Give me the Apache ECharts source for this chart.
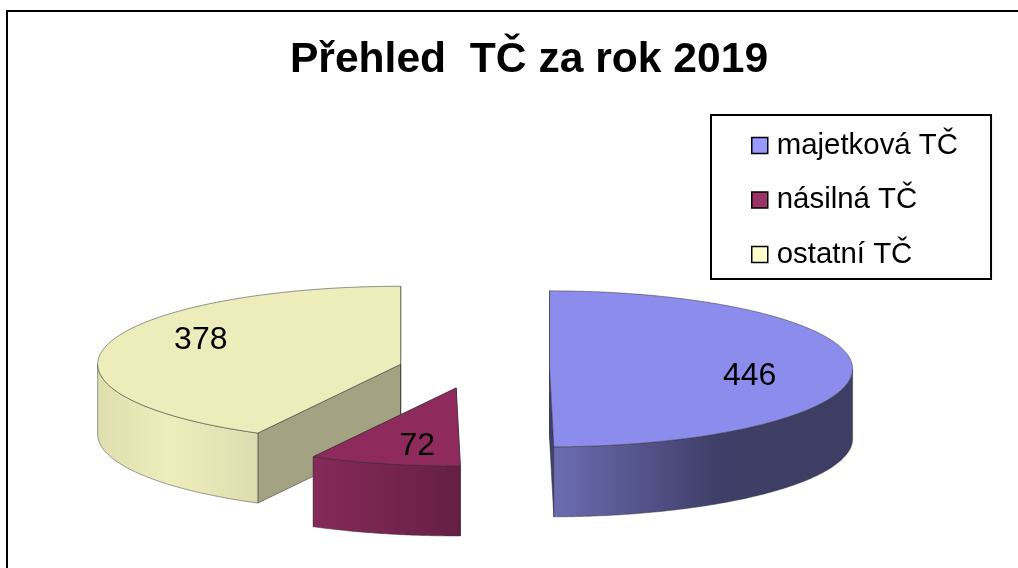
<!DOCTYPE html>
<html><head><meta charset="utf-8">
<style>html,body{margin:0;padding:0;background:#fff}#c{width:1018px;height:568px}</style>
<script src="https://cdn.jsdelivr.net/npm/echarts@6/dist/echarts.min.js"></script>
</head><body><div id="c"></div>
<script>
const categories = ['majetková TČ', 'násilná TČ', 'ostatní TČ'];
const values = [446, 72, 378];
const titleText = 'Přehled  TČ za rok 2019';

const topColors = ['#8c8ced', '#8e2b5c', '#ededbb'];
const legendColors = ['#9999ff', '#993366', '#ffffcc'];
const faceColors = ['#3f3f78', '#661f45', '#a3a384'];
const sideStops = [
  [[0, '#6c6cb2'], [0.55, '#3e3e68'], [1, '#3e3e64']],
  [[0, '#862a59'], [1, '#651f44']],
  [[0, '#dedeae'], [0.45, '#eeeebc'], [1, '#dcdcb0']]
];
const PIE = { cx: 474, cy: 369, rx: 303, ry: 78, depth: 70, ex: 75.6, ey: 19.5 };
const LABEL_R = [0.66, 0.6, 0.68];
const LABEL_DY = [8, 13, -11];
const LABEL_DX = [0, 4, 0];
const total = values.reduce((a, b) => a + b, 0);

function renderSlice(i) {
  return function () {
    const before = values.slice(0, i).reduce((a, b) => a + b, 0);
    const a0 = before / total * 2 * Math.PI;
    const a1 = (before + values[i]) / total * 2 * Math.PI;
    const mid = (a0 + a1) / 2;
    const cx = PIE.cx + PIE.ex * Math.sin(mid);
    const cy = PIE.cy - PIE.ey * Math.cos(mid);
    const pt = (a, f, d) => [cx + PIE.rx * f * Math.sin(a), cy - PIE.ry * f * Math.cos(a) + (d || 0)];
    const arc = (s, e, d) => {
      const out = [];
      const n = Math.max(2, Math.ceil(Math.abs(e - s) / 0.01));
      for (let k = 0; k <= n; k++) out.push(pt(s + (e - s) * k / n, 1, d));
      return out;
    };
    const children = [];
    const face = (a) => ({
      type: 'polygon',
      shape: { points: [pt(a, 1), pt(a, 0), pt(a, 0, PIE.depth), pt(a, 1, PIE.depth)] },
      style: { fill: faceColors[i], stroke: 'rgba(50,50,50,0.7)', lineWidth: 0.8 }
    });
    children.push(face(a0), face(a1));
    const vs = Math.max(a0, Math.PI / 2);
    const ve = Math.min(a1, 1.5 * Math.PI);
    if (ve > vs) {
      const top = arc(vs, ve, 0);
      const bottom = arc(ve, vs, PIE.depth);
      const xs = top.map(p => p[0]);
      const minX = Math.min(...xs), maxX = Math.max(...xs);
      children.push({
        type: 'polygon',
        shape: { points: top.concat(bottom) },
        style: {
          fill: {
            type: 'linear', global: true, x: minX, y: 0, x2: maxX, y2: 0,
            colorStops: sideStops[i].map(s => ({ offset: s[0], color: s[1] }))
          },
          stroke: 'rgba(50,50,50,0.6)', lineWidth: 0.8
        }
      });
    }
    children.push({
      type: 'polygon',
      shape: { points: [pt(a0, 0)].concat(arc(a0, a1, 0)) },
      style: { fill: topColors[i], stroke: 'rgba(50,50,50,0.65)', lineWidth: 0.8 }
    });
    const lp = pt(mid, LABEL_R[i], LABEL_DY[i]);
    children.push({
      type: 'text', x: lp[0] + LABEL_DX[i], y: lp[1],
      style: {
        text: String(values[i]), fill: '#000', align: 'center', verticalAlign: 'middle',
        font: '32px "Liberation Sans", Arial, sans-serif'
      }
    });
    return { type: 'group', children };
  };
}

const chart = echarts.init(document.getElementById('c'), null, { renderer: 'canvas', width: 1018, height: 568 });
chart.setOption({
  animation: false,
  backgroundColor: '#fff',
  title: {
    text: titleText, left: 524, top: 34, textAlign: 'center',
    textStyle: { fontFamily: '"Liberation Sans", Arial, sans-serif', fontSize: 42.6, fontWeight: 'bold', color: '#000' }
  },
  legend: {
    orient: 'vertical', left: 711, top: 115, itemWidth: 16, itemHeight: 16, itemGap: 21.5,
    padding: [14, 33, 8, 40], borderColor: '#000', borderWidth: 2, backgroundColor: '#fff',
    selectedMode: false,
    textStyle: { fontFamily: '"Liberation Sans", Arial, sans-serif', fontSize: 29.4, color: '#000', padding: [0, 0, 0, 4], lineHeight: 33 },
    data: categories.map((n, i) => ({
      name: n, icon: 'rect',
      itemStyle: { color: legendColors[i], borderColor: '#000', borderWidth: 1.5 }
    }))
  },
  graphic: [
    { type: 'line', silent: true, shape: { x1: 7, y1: 11, x2: 1018, y2: 11 }, style: { stroke: '#000', lineWidth: 2 } },
    { type: 'line', silent: true, shape: { x1: 7, y1: 10, x2: 7, y2: 568 }, style: { stroke: '#000', lineWidth: 2 } }
  ],
  series: [2, 1, 0].map(i => ({
    type: 'custom', name: categories[i], coordinateSystem: 'none',
    silent: true, data: [values[i]], renderItem: renderSlice(i), z: 3 - i
  }))
});
</script></body></html>
